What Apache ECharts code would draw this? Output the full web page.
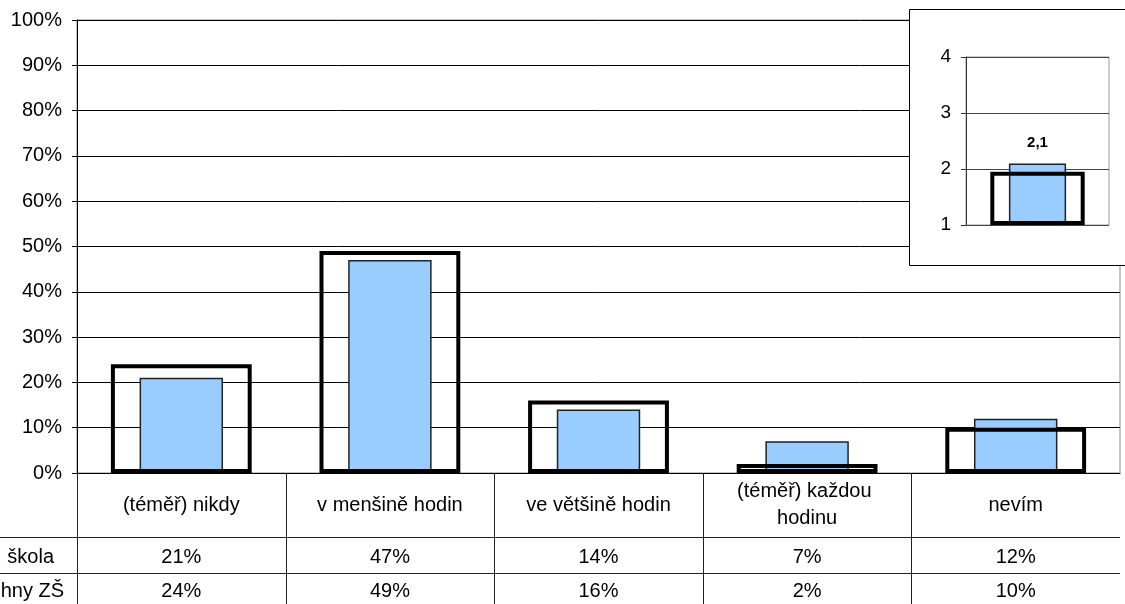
<!DOCTYPE html>
<html><head><meta charset="utf-8">
<script src="https://cdn.jsdelivr.net/npm/echarts@6/dist/echarts.min.js"></script>
<style>html,body{margin:0;padding:0;background:#fff}#c{width:1125px;height:604px}</style>
</head><body><div id="c"></div>
<script>
const categories = ['(téměř) nikdy', 'v menšině hodin', 've většině hodin', '(téměř) každou hodinu', 'nevím'];
const seriesNames = ['škola', 'všechny ZŠ'];
const skola = [21, 47, 14, 7, 12];
const vsechnyZS = [24, 49, 16, 2, 10];
const insetCategory = ['průměr'];
const insetSkola = [2.1];
const insetVsechnyZS = [1.95];

const FONT = 'Liberation Sans, Arial, sans-serif';
const FS = 20;
const chart = echarts.init(document.getElementById('c'), null, {renderer: 'canvas'});

const hiddenCat = (grid) => ({
  type: 'category', gridIndex: grid, data: categories, position: 'bottom', offset: 0,
  axisLine: {show: false, onZero: false}, axisTick: {show: false}, splitLine: {show: false}
});

const option = {
  animation: false,
  backgroundColor: '#fff',
  textStyle: {fontFamily: FONT, color: '#000'},
  grid: [
    {left: 77, right: 5, top: 20, bottom: 131, show: true, borderColor: '#8c8c8c', borderWidth: 1, backgroundColor: 'transparent'},
    {left: 966, width: 143, top: 57, height: 168, show: true, borderColor: '#9a9a9a', borderWidth: 1, z: 3}
  ],
  xAxis: [
    {type: 'category', gridIndex: 0, data: categories, position: 'bottom', offset: 0,
     axisLine: {show: true, onZero: false, lineStyle: {color: '#000', width: 1}},
     axisTick: {show: false}, splitLine: {show: false},
     axisLabel: {interval: 0, fontSize: FS, fontFamily: FONT, color: '#000', margin: 32,
       verticalAlign: 'middle', width: 185, overflow: 'break', lineHeight: 27, align: 'center'}},
    Object.assign(hiddenCat(0), {axisLabel: {interval: 0, fontSize: FS, fontFamily: FONT, color: '#000', margin: 84,
       verticalAlign: 'middle', formatter: (v, i) => skola[i] + '%'}}),
    Object.assign(hiddenCat(0), {axisLabel: {interval: 0, fontSize: FS, fontFamily: FONT, color: '#000', margin: 118,
       verticalAlign: 'middle', formatter: (v, i) => vsechnyZS[i] + '%'}}),
    {type: 'category', gridIndex: 1, data: insetCategory, z: 3,
     axisLine: {show: false, onZero: false}, axisTick: {show: false}, axisLabel: {show: false}},
    {type: 'category', gridIndex: 1, data: insetCategory, position: 'bottom', offset: 0, z: 3,
     axisLine: {show: false, onZero: false}, axisTick: {show: false}, axisLabel: {show: false}}
  ],
  yAxis: [
    {type: 'value', gridIndex: 0, min: 0, max: 100, interval: 10,
     axisLine: {show: true, lineStyle: {color: '#000', width: 1}},
     axisTick: {show: true, length: 5, lineStyle: {color: '#000'}},
     axisLabel: {formatter: '{value}%', fontSize: FS, fontFamily: FONT, color: '#000', margin: 15},
     splitLine: {show: true, lineStyle: {color: '#000', width: 1}}},
    {type: 'value', gridIndex: 1, min: 1, max: 4, interval: 1, startValue: 1, z: 3,
     axisLine: {show: true, lineStyle: {color: '#333', width: 1}},
     axisTick: {show: true, length: 5, lineStyle: {color: '#333'}},
     axisLabel: {fontSize: 19, fontFamily: FONT, color: '#000', margin: 15},
     splitLine: {show: true, lineStyle: {color: '#444', width: 1}}}
  ],
  series: [
    {name: seriesNames[0], type: 'bar', xAxisIndex: 1, yAxisIndex: 0, data: skola, barWidth: '40%', z: 2,
     itemStyle: {color: '#99ccff', borderColor: '#222', borderWidth: 1.5}},
    {name: seriesNames[1], type: 'bar', xAxisIndex: 2, yAxisIndex: 0, data: vsechnyZS, barWidth: '67.5%', z: 3, clip: false,
     itemStyle: {color: 'rgba(0,0,0,0)', borderColor: '#000', borderWidth: 4}},
    {name: seriesNames[0], type: 'bar', xAxisIndex: 3, yAxisIndex: 1, data: insetSkola, barWidth: '40%', z: 5, clip: false,
     itemStyle: {color: '#99ccff', borderColor: '#222', borderWidth: 1.5},
     label: {show: true, position: 'top', distance: 13, fontSize: 15, fontWeight: 'bold', fontFamily: FONT, color: '#000',
       formatter: p => String(p.value).replace('.', ',')}},
    {name: seriesNames[1], type: 'bar', xAxisIndex: 4, yAxisIndex: 1, data: insetVsechnyZS, barWidth: '66%', z: 6, clip: false,
     itemStyle: {color: 'rgba(0,0,0,0)', borderColor: '#000', borderWidth: 4}}
  ]
};
chart.setOption(option);

// table lines and row labels
const c0 = chart.convertToPixel({xAxisIndex: 0}, categories[0]);
const c1 = chart.convertToPixel({xAxisIndex: 0}, categories[1]);
const band = c1 - c0;
const gridLeft = c0 - band / 2;
const axisY = chart.convertToPixel({yAxisIndex: 0}, 0);
const elements = [
  {type: 'rect', z: 1, shape: {x: 909.5, y: 9.5, width: 240, height: 256}, style: {fill: '#fff', stroke: '#000', lineWidth: 1}},
  {type: 'line', z: 1, shape: {x1: 0, y1: 537.5, x2: 1120, y2: 537.5}, style: {stroke: '#222', lineWidth: 1}},
  {type: 'line', z: 1, shape: {x1: 0, y1: 573.5, x2: 1120, y2: 573.5}, style: {stroke: '#222', lineWidth: 1}},
  {type: 'text', z: 1, style: {text: seriesNames[0], x: 54, y: 557, align: 'right', verticalAlign: 'middle', fontSize: FS, fontFamily: FONT, fill: '#000'}},
  {type: 'text', z: 1, style: {text: seriesNames[1], x: 64, y: 591, align: 'right', verticalAlign: 'middle', fontSize: FS, fontFamily: FONT, fill: '#000'}}
];
for (let i = 0; i < categories.length; i++) {
  const x = Math.round(gridLeft + i * band) + 0.5;
  elements.push({type: 'line', z: 1, shape: {x1: x, y1: axisY, x2: x, y2: 604}, style: {stroke: '#222', lineWidth: 1}});
}
chart.setOption({graphic: {elements: elements}});
</script>
</body></html>
